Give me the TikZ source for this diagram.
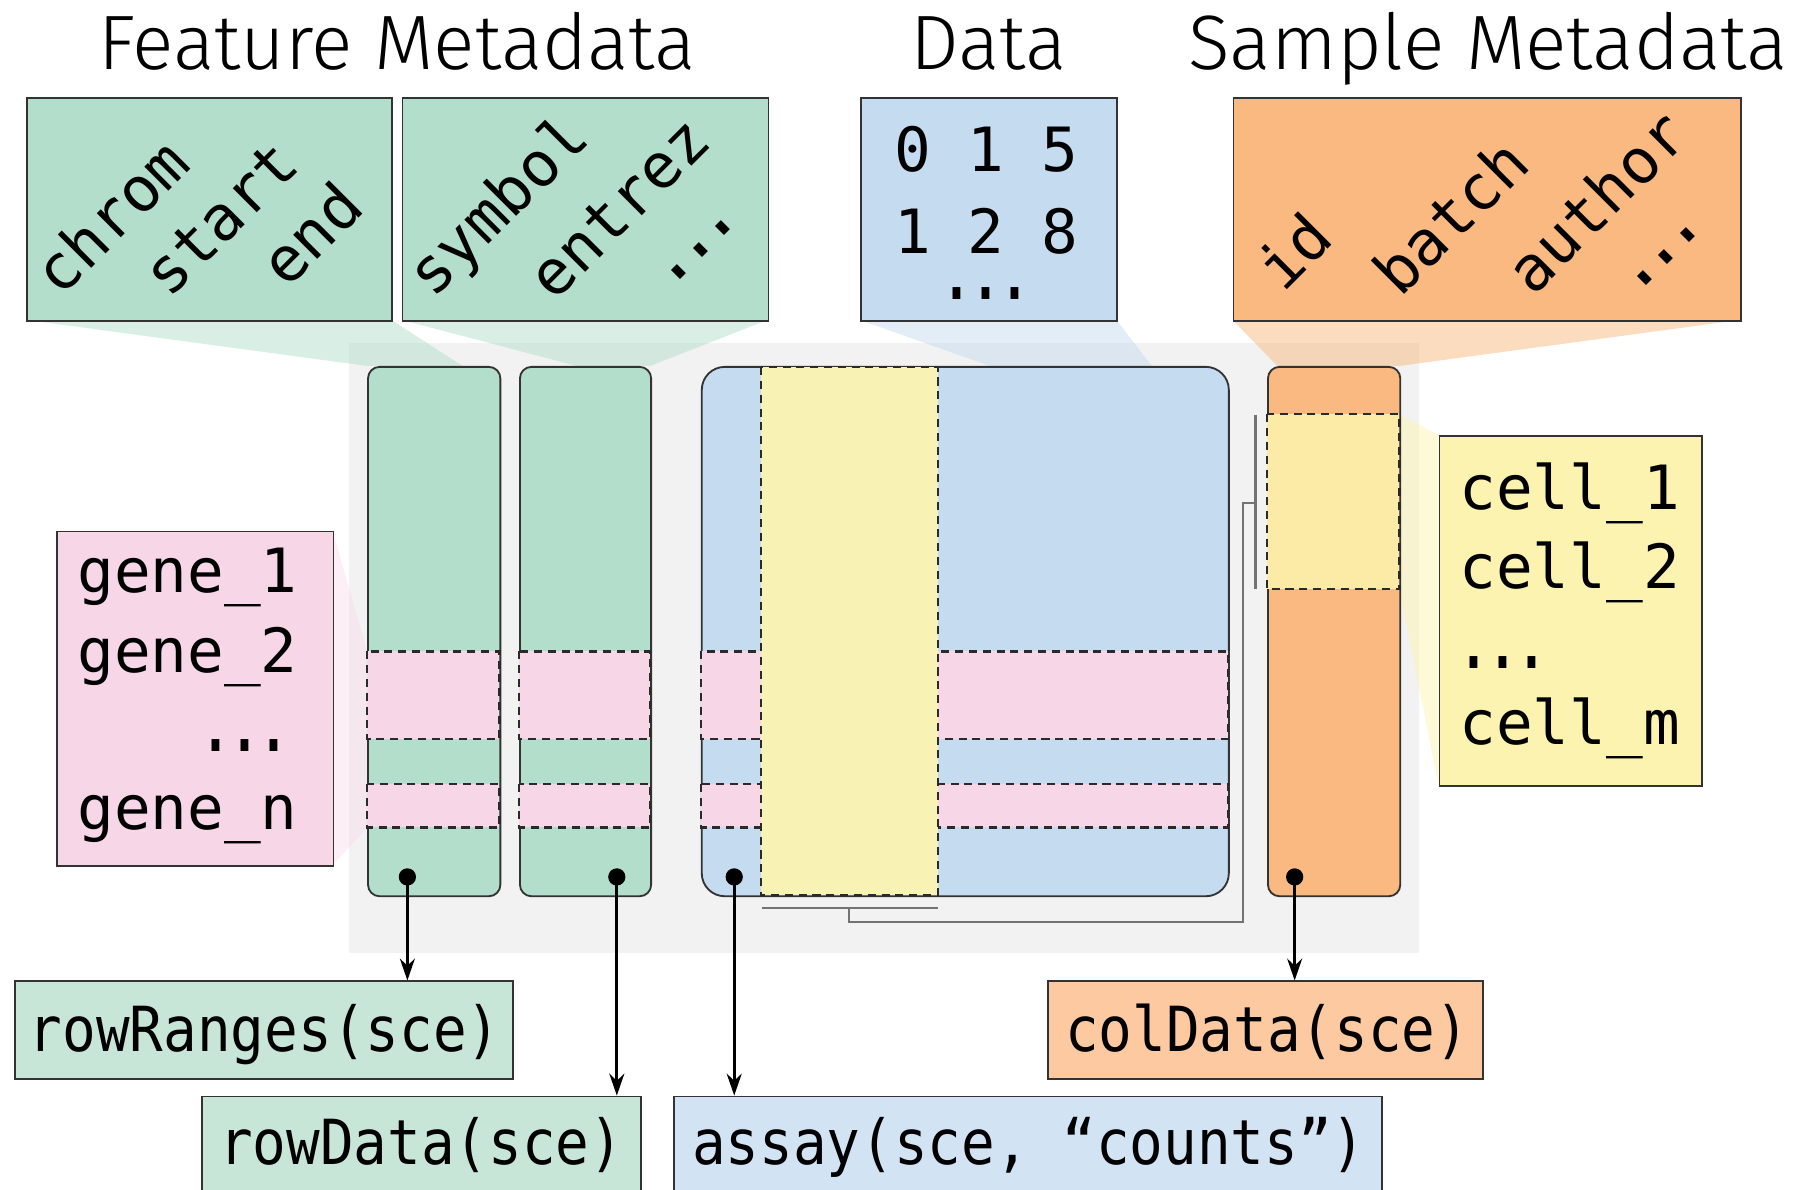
\documentclass[tikz,border=0pt]{standalone}
\usepackage{fontspec}
\setmainfont{Fira Sans}
\newfontfamily\titlefont{Fira Sans Light}
\newfontfamily\monoA{DejaVu Sans Mono}
\newfontfamily\monoN{DejaVu Sans Mono}[FakeStretch=0.9]
\newfontfamily\monoD{DejaVu Sans Mono}[FakeStretch=0.72]
\usetikzlibrary{arrows.meta}
\definecolor{bdr}{HTML}{333333}
\definecolor{dshc}{HTML}{2A2A2A}
\definecolor{bggray}{HTML}{F2F2F2}
\definecolor{cgreen}{HTML}{B4DECC}
\definecolor{cblue}{HTML}{C5DCF0}
\definecolor{corange}{HTML}{F9B980}
\definecolor{cpink}{HTML}{F7D7E7}
\definecolor{cyellow}{HTML}{F8F2B4}
\definecolor{cyellowbox}{HTML}{FDF3B0}
\definecolor{cyelor}{HTML}{FCEAA7}
\definecolor{lgreen}{HTML}{C8E6D7}
\definecolor{lblue}{HTML}{D2E3F3}
\definecolor{lorange}{HTML}{FCC9A0}
\begin{document}
\begin{tikzpicture}[x=1pt,y=-1pt,
  box/.style={draw=bdr,line width=1.6pt,inner sep=0pt,anchor=north west},
  dsh/.style={draw=dshc,line width=2pt,dash pattern=on 7pt off 5pt},
  rot/.style={rotate=45,font=\monoA\fontsize{54}{60}\selectfont,inner sep=0pt},
  rotdots/.style={rotate=45,font=\monoD\bfseries\fontsize{62}{60}\selectfont,inner sep=0pt},
  lbl/.style={font=\monoN\fontsize{54}{60}\selectfont,anchor=base,inner sep=0pt},
  lst/.style={font=\monoA\fontsize{53}{60}\selectfont,anchor=base west,inner sep=0pt},
  lstdots/.style={font=\monoD\bfseries\fontsize{58}{60}\selectfont,anchor=base,inner sep=0pt},
  num/.style={font=\monoA\fontsize{53}{60}\selectfont,anchor=base,inner sep=0pt},
  ttl/.style={font=\titlefont\fontsize{67}{70}\selectfont,anchor=base,inner sep=0pt},
  dotmark/.style={circle,fill=black,inner sep=0pt,minimum size=15pt},
  arr/.style={line width=2.5pt,-{Stealth[length=19pt,width=13pt]}},
  brk/.style={draw=black!55,line width=2pt},
  funnel/.style={opacity=0.5}
]
\useasboundingbox (0,0) rectangle (1565,1033.2);
\clip (0,0) rectangle (1565,1033.2);

% background panel
\node[fill=bggray,inner sep=0pt,anchor=north west,minimum width=930pt,minimum height=530pt] (bg) at (303,298) {};

% funnels
\fill[cgreen,funnel] (23,278) -- (340,278) -- (402,318) -- (319,318) -- cycle;
\fill[cgreen,funnel] (349,278) -- (667,278) -- (565,318) -- (501,318) -- cycle;
\fill[cblue,funnel] (747,278) -- (970,278) -- (1001,318) -- (860,318) -- cycle;
\fill[corange,funnel] (1071,278) -- (1512,278) -- (1216,318) -- (1110,318) -- cycle;
\fill[cpink,opacity=0.4] (289,461) -- (289,752) -- (319,719) -- (319,566) -- cycle;
\fill[cyellowbox,funnel] (1216,360) -- (1250,378) -- (1250,682) -- (1216,512) -- cycle;

% titles
\node[ttl] (t1) at (345,60) {Feature Metadata};
\node[ttl] (t2) at (859,60) {Data};
\node[ttl] (t3) at (1293,60) {Sample Metadata};

% top boxes
\node[box,fill=cgreen,minimum width=317pt,minimum height=194pt] (fm1) at (23,84) {};
\node[box,fill=cgreen,minimum width=318pt,minimum height=194pt] (fm2) at (349,84) {};
\node[box,fill=cblue,minimum width=223pt,minimum height=194pt] (dat) at (747,84) {};
\node[box,fill=corange,minimum width=441pt,minimum height=194pt] (sm) at (1071,84) {};

\node[rot] (w1) at (96,188) {chrom};
\node[rot] (w2) at (192,190) {start};
\node[rot] (w3) at (270,203) {end};
\node[rot] (w4) at (435,181) {symbol};
\node[rot] (w5) at (538,181) {entrez};
\node[rotdots] (w6) at (609,217) {...};
\node[rot] (w7) at (1124,218) {id};
\node[rot] (w8) at (1260,188) {batch};
\node[rot] (w9) at (1387,175) {author};
\node[rotdots] (w10) at (1448,223) {...};

\node[num] (n1) at (857,149) {0 1 5};
\node[num] (n2) at (857,220) {1 2 8};
\node[lstdots] (n3) at (857,260) {...};

% columns
\node[box,fill=cgreen,rounded corners=10pt,minimum width=115pt,minimum height=460pt] (c1) at (319,318) {};
\node[box,fill=cgreen,rounded corners=10pt,minimum width=114pt,minimum height=460pt] (c2) at (451,318) {};
\node[box,fill=cblue,rounded corners=20pt,minimum width=458pt,minimum height=460pt] (mat) at (609,318) {};
\node[box,fill=corange,rounded corners=10pt,minimum width=115pt,minimum height=460pt] (oc) at (1101,318) {};

% pink row bands
\filldraw[cpink,dsh] (319,566) rectangle (434,642);
\filldraw[cpink,dsh] (319,681) rectangle (434,719);
\filldraw[cpink,dsh] (451,566) rectangle (565,642);
\filldraw[cpink,dsh] (451,681) rectangle (565,719);
\filldraw[cpink,dsh] (609,566) rectangle (1067,642);
\filldraw[cpink,dsh] (609,681) rectangle (1067,719);

% yellow column band
\filldraw[cyellow,dsh] (661,319) rectangle (815,778);
\filldraw[cyelor,dsh] (1101,360) rectangle (1216,512);

% bracket lines
\coordinate (bA) at (662,789);
\coordinate (bB) at (815,789);
\coordinate (bM) at (738,789);
\coordinate (bR) at (1091,437);
\draw[brk] (bA) -- (bB);
\draw[brk] (bM) -- (738,801) -- (1080,801) -- (1080,437) -- (bR);
\draw[brk] (1091,361) -- (1091,512);

% side boxes
\node[box,fill=cpink,minimum width=240pt,minimum height=291pt] (gb) at (49,461) {};
\node[lst] (g1) at (67,515) {gene\_1};
\node[lst] (g2) at (67,584) {gene\_2};
\node[lstdots] (g3) at (213,653) {...};
\node[lst] (g4) at (67,721) {gene\_n};

\node[box,fill=cyellowbox,minimum width=228pt,minimum height=304pt] (cb) at (1250,378) {};
\node[lst] (k1) at (1268,443) {cell\_1};
\node[lst] (k2) at (1268,511) {cell\_2};
\node[lstdots] (k3) at (1306,581) {...};
\node[lst] (k4) at (1268,647) {cell\_m};

% bottom label boxes
\node[box,fill=lgreen,minimum width=433pt,minimum height=85pt] (rr) at (12,852) {};
\node[box,fill=lorange,minimum width=378pt,minimum height=85pt] (cd) at (910,852) {};
\node[box,fill=lgreen,minimum width=381pt,minimum height=120pt] (rd) at (175,952) {};
\node[box,fill=lblue,minimum width=615pt,minimum height=120pt] (as) at (585,952) {};
\node[lbl] (rrt) at (230,914) {rowRanges(sce)};
\node[lbl] (cdt) at (1101,914) {colData(sce)};
\node[lbl] (rdt) at (366,1012) {rowData(sce)};
\node[lbl] (ast) at (894,1012) {assay(sce, “counts”)};

% dots and arrows
\node[dotmark] (d1) at (354,762) {};
\node[dotmark] (d2) at (536,762) {};
\node[dotmark] (d3) at (638,762) {};
\node[dotmark] (d4) at (1125,762) {};
\draw[arr] (d1.center) -- (d1.center |- rr.north);
\draw[arr] (d2.center) -- (d2.center |- rd.north);
\draw[arr] (d3.center) -- (d3.center |- as.north);
\draw[arr] (d4.center) -- (d4.center |- cd.north);
\end{tikzpicture}
\end{document}
